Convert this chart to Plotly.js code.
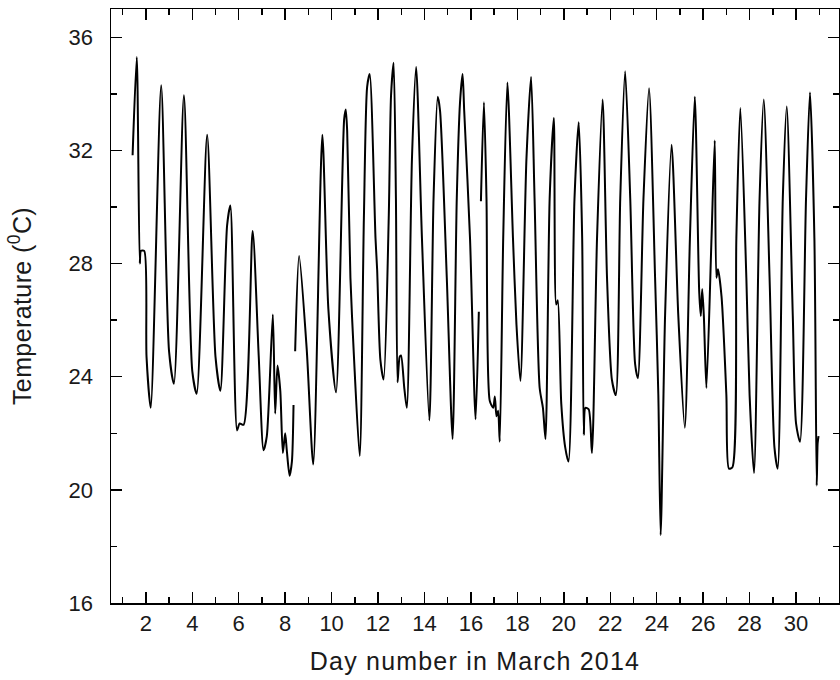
<!DOCTYPE html>
<html>
<head>
<meta charset="utf-8">
<script src="https://cdn.plot.ly/plotly-3.0.1.min.js"></script>
<style>
html,body{margin:0;padding:0;background:#fff;}
#chart{width:840px;height:680px;}
#chart .xtitle{letter-spacing:1.2px;}
#chart .ytitle{letter-spacing:0.4px;}
</style>
</head>
<body>
<div id="chart"></div>
<script>
// Day of March 2014 (fractional) and air temperature (°C)
var dayTime = [
  1.43,1.61,1.74,1.79,1.93,2.03,2.21,
  2.66,3.0,3.21,
  3.64,4.0,4.19,
  4.64,5.0,5.21,
  5.5,5.64,5.93,6.04,6.21,
  6.6,6.86,7.07,7.21,7.47,7.57,7.67,7.79,7.9,8.0,8.07,8.19,8.29,8.36,
  null,
  8.43,8.6,8.93,9.21,
  9.6,9.86,10.19,
  10.54,10.61,10.67,10.81,10.96,11.21,
  11.39,11.53,11.64,11.89,11.96,12.1,12.24,
  12.46,12.56,12.67,12.77,12.84,12.93,12.99,13.13,13.24,
  13.46,13.64,13.89,14.21,
  14.39,14.57,14.67,14.96,15.21,
  15.39,15.53,15.64,15.71,15.96,16.2,16.34,
  null,
  16.43,16.56,16.67,16.81,16.96,17.03,17.1,17.17,17.24,
  17.39,17.57,17.81,17.96,18.13,
  18.39,18.59,18.74,18.96,19.1,19.21,
  19.39,19.57,19.67,19.74,19.89,20.06,20.2,
  20.46,20.64,20.79,20.86,20.93,21.07,21.21,
  21.43,21.67,21.86,22.07,22.24,
  22.43,22.64,22.86,23.07,23.19,
  23.43,23.67,23.93,24.07,24.17,
  24.36,24.64,24.93,25.21,
  25.43,25.64,25.83,25.9,25.96,26.03,26.14,
  26.36,26.5,26.57,26.64,26.79,27.0,27.11,27.26,
  27.43,27.6,27.86,28.0,28.19,
  28.43,28.61,28.86,29.07,29.21,
  29.43,29.6,29.86,30.0,30.17,
  30.43,30.6,30.79,30.89,30.93,30.97
];
var tempC = [
  31.83,35.3,28.0,28.45,28.45,24.7,22.9,
  34.3,24.9,23.75,
  33.95,24.2,23.4,
  32.55,24.7,23.5,
  29.35,30.05,22.1,22.35,22.3,
  29.15,24.75,21.4,21.9,26.2,22.7,24.4,23.5,21.3,22.0,21.4,20.5,21.0,23.0,
  null,
  24.9,28.27,24.95,20.9,
  32.55,26.4,23.45,
  33.1,33.45,32.7,27.5,24.75,21.2,
  29.6,34.25,34.7,28.9,27.8,24.6,23.9,
  29.6,33.95,35.1,30.3,23.8,24.7,24.75,23.6,22.9,
  31.7,34.95,28.9,22.45,
  30.3,33.9,33.4,27.5,21.8,
  30.3,33.7,34.7,33.4,28.9,22.5,26.3,
  null,
  30.2,33.7,30.3,23.15,22.9,23.3,22.6,22.8,21.7,
  28.9,34.4,28.9,25.85,23.85,
  31.7,34.6,30.3,23.6,22.9,21.8,
  30.3,33.15,26.55,26.7,23.05,21.5,21.0,
  30.3,33.0,28.9,21.95,22.9,22.85,21.3,
  28.9,33.8,27.5,23.9,23.35,
  30.3,34.8,30.3,24.45,23.95,
  30.3,34.2,27.5,23.35,18.4,
  26.15,32.2,26.15,22.2,
  28.9,33.9,27.0,26.15,27.1,26.15,23.6,
  28.9,32.35,27.5,27.8,26.85,23.35,20.75,20.8,
  28.9,33.5,27.5,23.35,20.6,
  30.3,33.8,27.5,21.5,20.75,
  30.3,33.55,26.15,22.35,21.7,
  30.3,34.05,28.9,20.15,21.65,21.9
];
var xTickVals = [2,4,6,8,10,12,14,16,18,20,22,24,26,28,30];
var yTickVals = [16,20,24,28,32,36];

var trace = {
  x: dayTime, y: tempC, type: 'scatter', mode: 'lines',
  connectgaps: false,
  line: {color: '#000', width: 2, shape: 'spline', smoothing: 0.7},
  hoverinfo: 'skip'
};

var fontFam = 'Liberation Sans, Arial, sans-serif';
var axisCommon = {
  showline: true, linecolor: '#000', linewidth: 1.5, mirror: 'ticks',
  ticks: 'inside', ticklen: 11, tickwidth: 1.5, tickcolor: '#000',
  showgrid: false, zeroline: false,
  tickfont: {family: fontFam, size: 22, color: '#1a1a1a'}
};

var layout = {
  width: 840, height: 680,
  margin: {l: 111, r: 1, t: 9, b: 77},
  paper_bgcolor: '#fff', plot_bgcolor: '#fff',
  showlegend: false,
  xaxis: Object.assign({}, axisCommon, {
    range: [0.5, 31.85], tickmode: 'array', tickvals: xTickVals,
    ticktext: xTickVals.map(String), ticklabelstandoff: 0,
    minor: {ticks: 'inside', ticklen: 6, tickwidth: 1.5, tickcolor: '#000', dtick: 1, tick0: 0, showgrid: false},
    title: {text: 'Day number in March 2014', standoff: 17,
      font: {family: fontFam, size: 25, color: '#1a1a1a'}}
  }),
  yaxis: Object.assign({}, axisCommon, {
    range: [16, 37], tickmode: 'array', tickvals: yTickVals,
    ticktext: yTickVals.map(String), ticklabelstandoff: 12,
    minor: {ticks: 'inside', ticklen: 6, tickwidth: 1.5, tickcolor: '#000', dtick: 2, tick0: 0, showgrid: false},
    title: {text: 'Temperature (<sup>0</sup>C)', standoff: 30,
      font: {family: fontFam, size: 25, color: '#1a1a1a'}}
  })
};

Plotly.newPlot('chart', [trace], layout, {displayModeBar: false, staticPlot: true});
</script>
</body>
</html>
